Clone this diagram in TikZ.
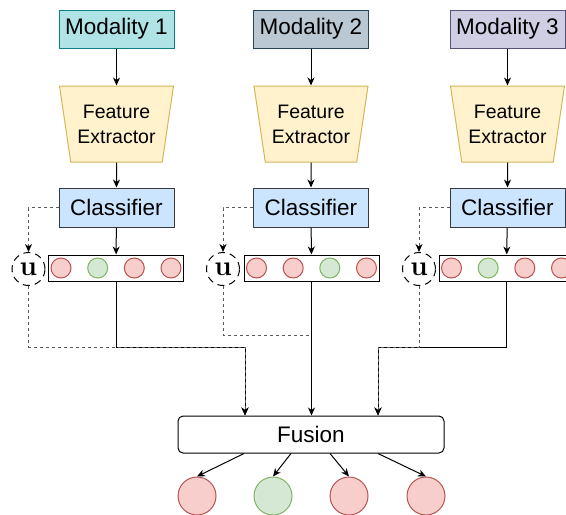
\documentclass[tikz,border=0pt]{standalone}
\usepackage{fontspec}
\newfontfamily\sansfont{Liberation Sans}
\usetikzlibrary{arrows.meta,shapes.geometric}

\definecolor{modAfill}{HTML}{B0E3E6}\definecolor{modAline}{HTML}{0E8088}
\definecolor{modBfill}{HTML}{BAC8D3}\definecolor{modBline}{HTML}{23445D}
\definecolor{modCfill}{HTML}{D0CEE2}\definecolor{modCline}{HTML}{56517E}
\definecolor{fefill}{HTML}{FFF2CC}\definecolor{feline}{HTML}{D6B656}
\definecolor{clffill}{HTML}{CCE5FF}\definecolor{clfline}{HTML}{36393D}
\definecolor{redfill}{HTML}{F8CECC}\definecolor{redline}{HTML}{B85450}
\definecolor{grnfill}{HTML}{D5E8D4}\definecolor{grnline}{HTML}{82B366}
\definecolor{dashgray}{HTML}{5A5A5A}

\begin{document}
\begin{tikzpicture}[x=1pt,y=-1pt,line width=1pt,
  arr/.style={-{Stealth[length=8pt,width=7pt,inset=2.5pt,color=black]}},
  modbox/.style={draw,rectangle,minimum width=115pt,minimum height=38pt,inner sep=0pt,
    font=\sansfont\fontsize{22.5}{24}\selectfont},
  fe/.style={draw=feline,fill=fefill,trapezium,shape border rotate=180,trapezium stretches=true,
    trapezium left angle=76,trapezium right angle=76,minimum width=115pt,minimum height=76pt,
    inner sep=0pt,align=center,font=\sansfont\fontsize{19.5}{25}\selectfont},
  clf/.style={draw=clfline,fill=clffill,rectangle,minimum width=115pt,minimum height=39pt,
    inner sep=0pt,font=\sansfont\fontsize{22.5}{24}\selectfont},
  bar/.style={draw,fill=white,rectangle,minimum width=135pt,minimum height=26pt,inner sep=0pt},
  rdot/.style={circle,draw=redline,fill=redfill,minimum size=20pt,inner sep=0pt},
  gdot/.style={circle,draw=grnline,fill=grnfill,minimum size=20pt,inner sep=0pt},
  unc/.style={circle,draw,dash pattern=on 7pt off 5pt,minimum size=33pt,inner sep=0pt,
    font=\rmfamily\bfseries\fontsize{28}{30}\selectfont},
  dsh/.style={draw=dashgray,dash pattern=on 3pt off 3pt},
  rout/.style={circle,draw=redline,fill=redfill,minimum size=38pt,inner sep=0pt},
  gout/.style={circle,draw=grnline,fill=grnfill,minimum size=38pt,inner sep=0pt}]

\useasboundingbox (0,0) rectangle (566,515);

% modality inputs
\node[modbox,draw=modAline,fill=modAfill] (m1) at (116.5,29) {Modality 1};
\node[modbox,draw=modBline,fill=modBfill] (m2) at (311,29) {Modality 2};
\node[modbox,draw=modCline,fill=modCfill] (m3) at (507.5,29) {Modality 3};

% feature extractors
\node[fe] (f1) at (116.5,124) {Feature\\Extractor};
\node[fe] (f2) at (311,124) {Feature\\Extractor};
\node[fe] (f3) at (507.5,124) {Feature\\Extractor};

% classifiers
\node[clf] (c1) at (116.5,207.5) {Classifier};
\node[clf] (c2) at (311,207.5) {Classifier};
\node[clf] (c3) at (507.5,207.5) {Classifier};

% class score bars
\node[bar] (b1) at (116,268) {};
\node[bar] (b2) at (311.5,268) {};
\node[bar] (b3) at (506.5,268) {};
\foreach \b/\pa/\pb/\pc/\pd in {b1/rdot/gdot/rdot/rdot, b2/rdot/rdot/gdot/rdot, b3/rdot/gdot/rdot/rdot}{
  \node[\pa] (\b-1) at ([xshift=-55pt]\b.center) {};
  \node[\pb] (\b-2) at ([xshift=-18.3pt]\b.center) {};
  \node[\pc] (\b-3) at ([xshift=18.3pt]\b.center) {};
  \node[\pd] (\b-4) at ([xshift=55pt]\b.center) {};
}

% uncertainty nodes
\node[unc] (u1) at (28.5,269) {u};
\node[unc] (u2) at (223,269) {u};
\node[unc] (u3) at (419,269) {u};

% fusion and outputs
\node[draw,rectangle,rounded corners=5pt,minimum width=266pt,minimum height=37pt,inner sep=0pt,
  font=\sansfont\fontsize{22.5}{24}\selectfont] (fus) at (311,434.5) {Fusion};
\node[rout] (o1) at (197,496) {};
\node[gout] (o2) at (273,496) {};
\node[rout] (o3) at (349,496) {};
\node[rout] (o4) at (426,496) {};

% routing points
\coordinate (j1) at (245,347);
\coordinate (k2) at (311,335);
\coordinate (j3) at (378,347);

% main pipeline
\foreach \i in {1,2,3}{
  \draw[arr] (m\i) -- (f\i);
  \draw[arr] (f\i) -- (c\i);
  \draw[arr] (c\i) -- (b\i);
}

% solid paths from score bars to fusion
\draw[arr] (b1.south) |- (j1) -- (j1 |- fus.north);
\draw[arr] (b2.south) -- (b2.south |- fus.north);
\draw[arr] (b3.south) |- (j3) -- (j3 |- fus.north);

% dashed uncertainty paths
\foreach \i in {1,2,3}{
  \draw[dsh,arr] (c\i.west) -| (u\i.north);
}
\draw[dsh,arr] (u1.south) |- (j1) -- (j1 |- fus.north);
\draw[dsh] (u2.south) |- (k2);
\draw[dsh,arr] (u3.south) |- (j3) -- (j3 |- fus.north);

% fusion outputs
\draw[arr] ([xshift=-67pt]fus.south) -- (o1.north);
\draw[arr] ([xshift=-20pt]fus.south) -- (o2.north);
\draw[arr] ([xshift=19pt]fus.south) -- (o3.north);
\draw[arr] ([xshift=67pt]fus.south) -- (o4.north);
\end{tikzpicture}
\end{document}
